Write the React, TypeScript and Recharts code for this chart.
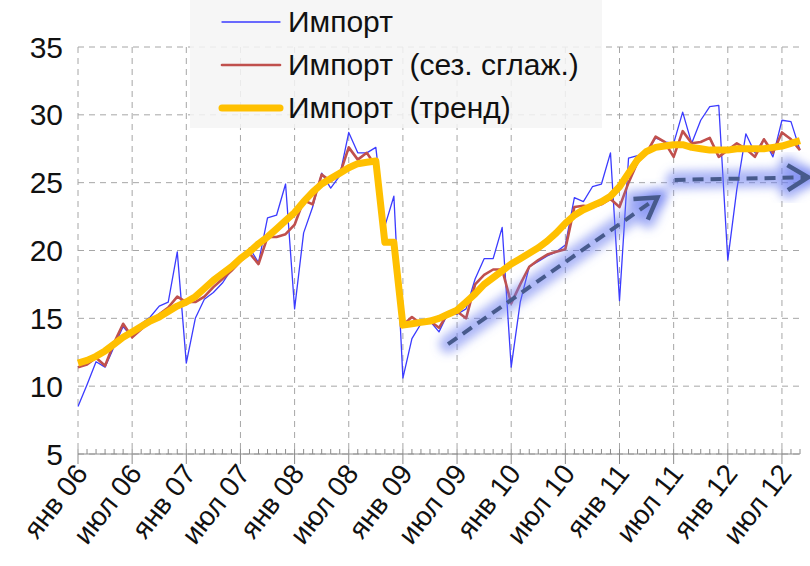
import React from "react";
import { CartesianGrid, Legend, Line, LineChart, ReferenceLine, XAxis, YAxis } from "recharts";

// monthly, Jan 2006 .. Sep 2012
const tickLabels = [
  "янв 06", "июл 06", "янв 07", "июл 07", "янв 08", "июл 08", "янв 09",
  "июл 09", "янв 10", "июл 10", "янв 11", "июл 11", "янв 12", "июл 12",
];

const importRaw = [
  8.5, 10.1, 11.8, 11.4, 12.9, 14.4, 13.6, 14.6, 15.1, 15.9, 16.2, 19.9,
  11.7, 15.0, 16.4, 16.9, 17.6, 18.6, 19.2, 20.2, 19.1, 22.4, 22.6, 24.9,
  15.7, 21.3, 23.2, 25.7, 24.6, 25.5, 28.7, 27.2, 27.2, 27.6, 21.8, 24.0,
  10.6, 13.5, 14.6, 14.8, 14.0, 15.4, 15.3, 15.7, 17.9, 19.4, 19.4, 21.7,
  11.4, 16.2, 18.8, 19.2, 19.6, 19.9, 20.4, 23.9, 23.6, 24.7, 24.9, 27.2,
  16.3, 26.8, 27.0, 27.2, 28.3, 28.0, 27.9, 30.2, 27.9, 29.6, 30.6, 30.7,
  19.3, 24.5, 28.6, 27.2, 28.2, 26.9, 29.6, 29.5, 27.4,
];

const importSmoothed = [
  11.4, 11.6, 12.1, 11.5, 13.2, 14.6, 13.6, 14.2, 14.8, 15.3, 15.8, 16.6,
  16.2, 16.2, 16.6, 17.3, 17.9, 18.5, 19.2, 19.8, 19.0, 21.0, 21.0, 21.2,
  21.9, 23.7, 23.4, 25.6, 25.1, 25.6, 27.6, 26.7, 27.2, 26.2, 20.8, 20.4,
  14.5, 15.1, 14.6, 14.8, 14.3, 15.4, 15.5, 15.0, 17.5, 18.2, 18.6, 18.6,
  16.1, 17.5, 18.8, 19.3, 19.7, 19.9, 20.1, 23.2, 23.3, 23.2, 23.4, 23.8,
  23.2, 25.0, 26.5, 27.2, 28.4, 28.0, 26.9, 28.8, 27.9, 28.0, 28.3, 26.9,
  27.4, 27.9, 27.5, 26.9, 28.2, 27.2, 28.7, 28.2, 27.4,
];

const importTrend = [
  11.7, 11.9, 12.2, 12.6, 13.1, 13.6, 14.0, 14.4, 14.8, 15.1, 15.5, 15.9,
  16.2, 16.6, 17.2, 17.8, 18.3, 18.8, 19.4, 19.9, 20.5, 21.0, 21.6, 22.2,
  22.8, 23.6, 24.3, 24.9, 25.3, 25.7, 26.1, 26.4, 26.5, 26.6, 20.6, 20.6,
  14.5, 14.6, 14.7, 14.8, 15.0, 15.3, 15.6, 16.2, 16.8, 17.5, 18.0, 18.5,
  19.0, 19.4, 19.8, 20.2, 20.7, 21.3, 22.0, 22.6, 23.0, 23.3, 23.6, 24.0,
  24.7, 25.7, 26.7, 27.3, 27.6, 27.7, 27.8, 27.8, 27.6, 27.5, 27.4, 27.4,
  27.4, 27.5, 27.5, 27.5, 27.5, 27.6, 27.7, 27.9, 28.1,
];

const yTicks = [5, 10, 15, 20, 25, 30, 35];

// annotation arrows, in (month index, value)
const arrowGrowth = [{ x: 41.0, y: 13.1 }, { x: 64.2, y: 23.9 }];
const arrowFlat = [{ x: 66.1, y: 25.2 }, { x: 80.9, y: 25.4 }];

const series = [
  { key: "raw", name: "Импорт", color: "#3b3bff", width: 1.3 },
  { key: "sa", name: "Импорт  (сез. сглаж.)", color: "#c0504d", width: 2.6 },
  { key: "trend", name: "Импорт  (тренд)", color: "#ffc000", width: 7 },
];

const data = importRaw.map((v, i) => ({
  m: i,
  raw: v,
  sa: importSmoothed[i],
  trend: importTrend[i],
}));
const monthTicks = data.map((d) => d.m);
const majorTicks = monthTicks.filter((m) => m % 6 === 0);

function MonthTick(props: any) {
  const { x, y, payload } = props;
  const m = payload.value;
  const major = m % 6 === 0;
  return (
    <g>
      <line x1={x} x2={x} y1={y - 5} y2={major ? y + 10 : y} stroke="#8c8c8c" />
      {major && (
        <text
          transform={`translate(${x + 11},${y + 20}) rotate(-52)`}
          textAnchor="end"
          fontSize={28}
          fill="#111"
        >
          {tickLabels[m / 6]}
        </text>
      )}
    </g>
  );
}

function GlowArrow(props: any) {
  const { x1, y1, x2, y2, id } = props;
  const a = Math.atan2(y2 - y1, x2 - x1);
  const len = 24;
  const spread = 0.55;
  const hx1 = x2 - len * Math.cos(a - spread);
  const hy1 = y2 - len * Math.sin(a - spread);
  const hx2 = x2 - len * Math.cos(a + spread);
  const hy2 = y2 - len * Math.sin(a + spread);
  const head = `M${hx1},${hy1} L${x2},${y2} L${hx2},${hy2}`;
  return (
    <g>
      <defs>
        <filter id={id} x="-20%" y="-50%" width="140%" height="200%">
          <feGaussianBlur stdDeviation={5} />
        </filter>
      </defs>
      <g filter={`url(#${id})`} stroke="#6a7cf0" strokeOpacity={0.55} fill="none" strokeLinecap="round">
        <line x1={x1} y1={y1} x2={x2} y2={y2} strokeWidth={18} />
        <path d={head} strokeWidth={18} />
      </g>
      <line x1={x1} y1={y1} x2={x2} y2={y2} stroke="#475a8c" strokeWidth={4} strokeDasharray="11 7" />
      <path d={head} stroke="#475a8c" strokeWidth={4.5} fill="none" />
    </g>
  );
}

function LegendBox() {
  return (
    <div style={{ paddingTop: 0 }}>
      {series.map((s) => (
        <div key={s.key} style={{ display: "flex", alignItems: "center", height: 43 }}>
          <svg width={66} height={12} style={{ marginLeft: 28 }}>
            <line x1={4} x2={62} y1={6} y2={6} stroke={s.color} strokeWidth={s.width} strokeLinecap="round" />
          </svg>
          <span style={{ fontSize: 30, lineHeight: "30px", color: "#111", whiteSpace: "pre", marginLeft: 4 }}>{s.name}</span>
        </div>
      ))}
    </div>
  );
}

export default function App() {
  return (
    <div style={{ width: 810, height: 566, background: "#fff", fontFamily: '"Liberation Sans", Arial, sans-serif' }}>
      <style>{"body{margin:0}"}</style>
      <LineChart width={810} height={566} data={data} margin={{ top: 47, right: 10, bottom: 0, left: 0 }}>
        <CartesianGrid stroke="#a6a6a6" strokeDasharray="6 5" verticalValues={majorTicks} />
        <XAxis
          dataKey="m"
          type="number"
          domain={[0, 80]}
          ticks={monthTicks}
          interval={0}
          tick={(p: any) => <MonthTick {...p} />}
          tickLine={false}
          tickSize={0}
          tickMargin={0}
          axisLine={{ stroke: "#8c8c8c" }}
          height={112}
        />
        <YAxis
          domain={[5, 35]}
          ticks={yTicks}
          axisLine={false}
          tickLine={false}
          tickSize={0}
          tickMargin={15}
          width={78}
          tick={{ fontSize: 30, fill: "#111" }}
        />
        {series.map((s) => (
          <Line
            key={s.key}
            type="linear"
            dataKey={s.key}
            name={s.name}
            stroke={s.color}
            strokeWidth={s.width}
            strokeLinejoin="round"
            dot={false}
            isAnimationActive={false}
          />
        ))}
        <ReferenceLine segment={arrowGrowth} ifOverflow="visible" shape={(p: any) => <GlowArrow {...p} id="glowA" />} />
        <ReferenceLine segment={arrowFlat} ifOverflow="visible" shape={(p: any) => <GlowArrow {...p} id="glowB" />} />
        <Legend
          layout="horizontal"
          verticalAlign="middle"
          align="center"
          wrapperStyle={{ position: "absolute", top: 0, left: 190, width: 412, height: 128, background: "rgba(244,244,244,0.85)" }}
          content={() => <LegendBox />}
        />
      </LineChart>
    </div>
  );
}
